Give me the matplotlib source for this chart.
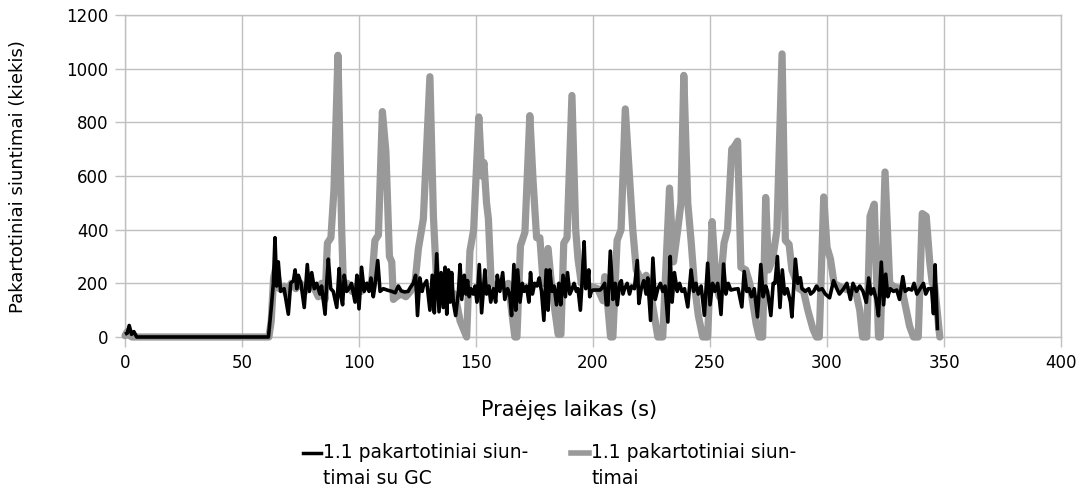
import numpy as np
import matplotlib
matplotlib.use('Agg')
import matplotlib.pyplot as plt
from matplotlib.lines import Line2D

# --------------------------------------
# Data (time [s], count)
# --------------------------------------
# 1.1 pakartotiniai siuntimai (grey, thick)
gray_pts = [
    (0, 5), (1, 20), (2, 5), (3, 0), (61.5, 0), (62.5, 60), (63.5, 220), (64.5, 260),
    (66, 180), (68, 190), (69, 160), (71, 200), (73, 180), (75, 200), (77, 170),
    (79, 200), (81, 180), (82.6, 150), (84, 200), (85.5, 140), (86.5, 350), (88, 370),
    (89.3, 550), (91, 1050), (92.6, 400), (93.3, 200), (95, 200), (97, 170), (99, 190),
    (101, 170), (103, 190), (105.4, 200), (106.8, 360), (108.3, 380), (110, 840),
    (111.5, 690), (113, 300), (114, 280), (114.7, 140), (116, 150), (118, 160),
    (120, 150), (122, 170), (123.9, 200), (125.4, 330), (127.5, 440), (130.3, 970),
    (131.8, 450), (133.2, 200), (135, 180), (138, 170), (141, 160), (143.2, 60),
    (146, 0), (147.4, 320), (149, 400), (151.2, 820), (152.5, 600), (153.4, 650),
    (154.5, 500), (155.3, 440), (156.5, 200), (159, 190), (162, 190), (163.8, 200),
    (165.2, 100), (166.6, 0), (167.5, 0), (169, 340), (170.9, 390), (173, 825),
    (174.4, 580), (175.9, 370), (177.3, 370), (178.7, 200), (180.8, 330), (182.2, 200),
    (183.7, 100), (185.1, 10), (186.3, 10), (187.5, 350), (188.9, 370), (191, 900),
    (192.6, 400), (193.6, 290), (195, 200), (198.6, 190), (202, 180), (204.3, 135),
    (205, 225), (206, 150), (207.5, 0), (208.5, 0), (210.3, 360), (212, 400),
    (213.8, 850), (215.6, 600), (217, 400), (218.5, 250), (221.3, 200), (222.7, 230),
    (224.9, 150), (227.7, 0), (229.8, 0), (232.7, 555), (234.4, 280), (236.2, 400),
    (237.6, 500), (238.8, 975), (240.5, 500), (241.9, 360), (243.3, 200), (245, 80),
    (246.9, 0), (249, 0), (250.9, 430), (252.6, 200), (254, 150), (256, 350),
    (257.5, 400), (259.3, 700), (260.4, 710), (261.8, 730), (263.2, 260), (265.3, 250),
    (267, 200), (269.7, 50), (271, 0), (272.5, 0), (273.8, 520), (275, 250),
    (276.8, 290), (278.6, 400), (280.8, 1055), (282.2, 360), (283.8, 345), (285, 250),
    (288, 180), (290, 170), (291.8, 100), (294, 30), (295.5, 0), (296.7, 0),
    (298.6, 522), (300, 335), (301.5, 290), (303, 200), (306, 185), (309, 175),
    (312, 180), (314, 100), (315.2, 0), (317, 0), (318.4, 450), (320.2, 495),
    (322, 0), (322.8, 0), (324.8, 615), (326.8, 200), (329, 185), (332, 180),
    (335.3, 40), (337, 0), (339, 0), (340.7, 460), (342.4, 450), (343.9, 280),
    (345, 200), (346, 190), (348.2, 0),
]

# 1.1 pakartotiniai siuntimai su GC (black)
black_pts = [
    (0, 10), (1, 15), (1.8, 43), (2.8, 10), (3.8, 20), (5, 0), (61.3, 0), (62.4, 100),
    (63.4, 200), (64.1, 370), (64.8, 190), (65.5, 280), (66.5, 170), (68, 180),
    (69.8, 85), (70.8, 200), (72, 210), (72.7, 250), (73.4, 180), (74.1, 230),
    (75.2, 200), (76.6, 110), (77.9, 270), (78.8, 170), (79.8, 240), (80.9, 180),
    (81.9, 200), (83.3, 160), (84, 190), (85.5, 85), (86.2, 200), (86.9, 290),
    (87.9, 180), (89, 170), (90.5, 110), (91.5, 255), (92.3, 150), (93, 120),
    (93.7, 230), (94.7, 170), (95.7, 180), (96.8, 200), (98.3, 130), (99.1, 230),
    (100, 105), (101.1, 260), (102.2, 170), (103.3, 200), (104.3, 170), (105.1, 220),
    (106.1, 150), (106.8, 190), (108, 285), (109, 170), (110.4, 180), (112, 175),
    (114, 170), (115.5, 165), (116.8, 190), (118, 172), (119.5, 168), (121, 170),
    (122, 185), (123.2, 200), (124.2, 230), (125, 80), (126, 220), (127, 170),
    (127.5, 190), (128.9, 210), (130.3, 100), (131.3, 230), (132.2, 90), (133.2, 310),
    (134.2, 94), (135.1, 240), (136, 110), (136.8, 260), (137.5, 85), (138.2, 250),
    (138.9, 130), (139.6, 240), (140.3, 130), (141.3, 80), (142.5, 170), (143.2, 270),
    (143.9, 140), (145, 230), (145.7, 160), (146.4, 210), (147.1, 150), (147.8, 180),
    (148.8, 160), (149.6, 190), (150.4, 130), (151.4, 270), (152.4, 90), (153.8, 250),
    (154.5, 160), (155.5, 190), (156.3, 130), (157.4, 180), (158.4, 130), (159.1, 230),
    (160.2, 170), (161.4, 240), (162.3, 140), (163.5, 180), (164.4, 160), (165.2, 80),
    (166.2, 270), (167, 100), (167.8, 250), (168.8, 130), (169.8, 200), (170.6, 170),
    (171.6, 190), (172.6, 130), (173.3, 240), (174.1, 160), (175.1, 200), (176.1, 190),
    (177, 220), (178, 170), (179, 62), (180, 250), (180.8, 100), (181.5, 250),
    (182.5, 170), (183.4, 190), (184.4, 120), (185.4, 200), (186.2, 120), (187.2, 230),
    (188.2, 150), (189.1, 240), (190.1, 160), (191.1, 180), (191.9, 200), (192.9, 170),
    (193.6, 180), (194.6, 100), (195.3, 200), (196.2, 355), (196.9, 180), (197.6, 200),
    (198.2, 250), (198.6, 150), (199.3, 170), (200, 175), (203, 175), (203.6, 180),
    (205, 200), (205.7, 120), (206.4, 120), (207.4, 320), (208.5, 140), (209.5, 200),
    (210.4, 120), (211.4, 200), (212.1, 210), (212.8, 160), (213.5, 180), (214.6, 200),
    (215.6, 160), (216.5, 190), (217.7, 180), (218.9, 285), (219.6, 125), (220.6, 180),
    (221.7, 210), (222.7, 160), (223.4, 220), (224.6, 62), (225.6, 294), (226.6, 140),
    (227.7, 180), (228.8, 200), (229.8, 170), (230.8, 190), (232, 56), (233, 300),
    (233.8, 130), (234.8, 240), (236, 170), (237, 200), (238, 170), (239.1, 180),
    (240.5, 112), (241.9, 250), (243, 170), (244, 200), (245, 160), (246.2, 190),
    (247.6, 81), (249, 275), (250, 120), (251.1, 200), (252.1, 170), (253.3, 200),
    (254.7, 84), (255.8, 272), (256.8, 160), (257.8, 200), (258.9, 175), (260.3, 178),
    (262, 180), (263.6, 112), (264.6, 244), (265.7, 170), (266.7, 180), (267.7, 150),
    (268.9, 180), (270.3, 75), (271.7, 270), (272.7, 150), (273.8, 190), (274.6, 170),
    (276, 80), (277, 200), (277.8, 200), (278.8, 300), (279.9, 110), (280.9, 250),
    (281.9, 160), (283, 180), (284.4, 130), (285, 75), (286.5, 290), (287.5, 200),
    (288.6, 221), (289.3, 180), (290.7, 170), (292.2, 180), (293, 160), (294.3, 170),
    (295.5, 190), (296.5, 175), (297.9, 180), (299.3, 160), (301.1, 146), (302.8, 210),
    (304.2, 180), (305.3, 160), (307.1, 180), (308.5, 200), (310, 140), (311.1, 200),
    (312.6, 170), (314, 190), (315.4, 170), (316.8, 129), (317.8, 220), (318.8, 160),
    (319.9, 180), (321, 140), (322, 79), (323.2, 279), (324.2, 120), (325.1, 234),
    (326, 150), (327, 180), (328.4, 170), (329.8, 175), (331, 140), (332.4, 225),
    (333.4, 170), (334.8, 180), (336.2, 175), (337.2, 200), (338.4, 160), (339.8, 180),
    (341.2, 200), (342.2, 160), (343.3, 180), (344.7, 180), (345.5, 87), (346.2, 269),
    (347.2, 25),
]

x_ticks = list(range(0, 401, 50))
y_ticks = list(range(0, 1201, 200))
x_label = 'Praėjęs laikas (s)'
y_label = 'Pakartotiniai siuntimai (kiekis)'
legend_black = ['1.1 pakartotiniai siun-', 'timai su GC']
legend_gray = ['1.1 pakartotiniai siun-', 'timai']

gray_t, gray_v = np.array(gray_pts).T
black_t, black_v = np.array(black_pts).T

# --------------------------------------
# Plot
# --------------------------------------
W, H = 1089, 495
fig = plt.figure(figsize=(W / 100, H / 100), dpi=100)
ax = fig.add_axes([125 / W, 1 - 337 / H, 936 / W, 322 / H])

grid_col = '#c0c0c0'
ax.plot(gray_t, gray_v, color='#999999', lw=5.2, solid_joinstyle='round',
        solid_capstyle='round', clip_on=False, zorder=3)
ax.plot(black_t, black_v, color='black', lw=2.6, solid_joinstyle='round',
        solid_capstyle='butt', clip_on=False, zorder=4)

ax.set_xlim(0, 400)
ax.set_ylim(0, 1200)
ax.set_xticks(x_ticks)
ax.set_yticks(y_ticks)
ax.grid(True, color=grid_col, lw=1)
ax.set_axisbelow(True)
for s in ax.spines.values():
    s.set_color(grid_col)
    s.set_linewidth(1)
ax.tick_params(length=7, width=1, color=grid_col, labelsize=12, pad=5)

fig.text(569 / W, 1 - 410 / H, x_label, ha='center', va='center', fontsize=15)
fig.text(18 / W, 1 - 177 / H, y_label, ha='center', va='center', rotation=90, fontsize=13)

# legend drawn by hand so the handle sits on the first text line
def legend_entry(x0, color, lw, lines):
    y1 = 1 - 453 / H
    fig.add_artist(Line2D([x0 / W, (x0 + 18) / W], [y1, y1], transform=fig.transFigure,
                          color=color, lw=lw))
    fig.text((x0 + 20) / W, y1, lines[0], ha='left', va='center', fontsize=13.5)
    fig.text((x0 + 20) / W, 1 - 478 / H, lines[1], ha='left', va='center', fontsize=13.5)

legend_entry(303, 'black', 2.5, legend_black)
legend_entry(571, '#999999', 4, legend_gray)

fig.savefig('out.png', dpi=100)
